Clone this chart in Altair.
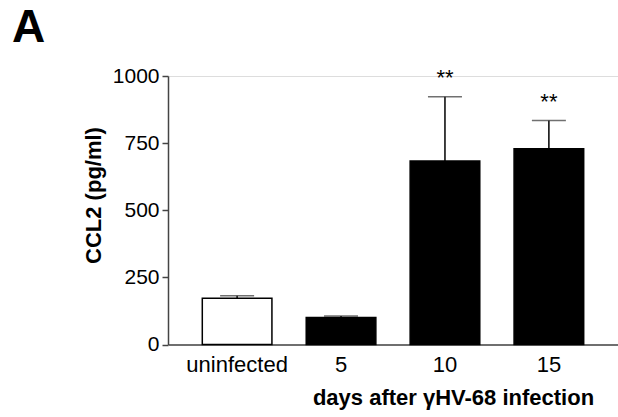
import altair as alt
import pandas as pd

groups = ["uninfected", "5", "10", "15"]
means = [172, 101, 683, 729]
err_tops = [182, 106, 923, 834]
stars = ["", "", "**", "**"]
fills = ["white", "black", "black", "black"]

df = pd.DataFrame({"group": groups, "mean": means, "err": err_tops,
                   "star": stars, "fill": fills})

FONT = "Liberation Sans"

x = alt.X("group:N", sort=groups,
          scale=alt.Scale(paddingInner=0.33, paddingOuter=0.33),
          axis=alt.Axis(title="days after γHV-68 infection", labelAngle=0,
                        ticks=False, labelPadding=10, labelFontSize=22,
                        labelFont=FONT, labelColor="black",
                        titleFont=FONT, titleFontSize=22, titleFontWeight="bold",
                        titleColor="black", titleX=285, titleY=60,
                        titleAlign="center", titleBaseline="alphabetic",
                        domainColor="#444", domainWidth=1.5))

y_scale = alt.Scale(domain=[0, 1000], nice=False)
y_axis = alt.Axis(title="CCL2 (pg/ml)", values=[0, 250, 500, 750, 1000],
                  format="d",
                  grid=False, tickSize=6, tickColor="#444", tickWidth=1.5,
                  labelPadding=3, labelFontSize=21, labelFont=FONT,
                  labelColor="black", domainColor="#444", domainWidth=1.5,
                  titleFont=FONT, titleFontSize=22, titleFontWeight="bold",
                  titleColor="black", titleX=-68, titleY=119,
                  titleAlign="center", titleBaseline="alphabetic", titleAngle=270)

base = alt.Chart(df)

err_line = base.mark_rule(color="black", strokeWidth=1.5).encode(
    x=x, y=alt.Y("mean:Q", scale=y_scale, axis=y_axis), y2="err:Q")

err_cap = base.mark_tick(color="#333", thickness=1.5, size=34).encode(
    x=x, y=alt.Y("err:Q", scale=y_scale))

bars = base.mark_bar(stroke="black", strokeWidth=1.5).encode(
    x=x, y=alt.Y("mean:Q", scale=y_scale, axis=y_axis),
    fill=alt.Fill("fill:N", scale=None))

star_text = base.mark_text(fontSize=22, font=FONT, color="black",
                           baseline="alphabetic", dy=-12).encode(
    x=x, y=alt.Y("err:Q", scale=y_scale), text="star:N")

chart = alt.layer(err_line, err_cap, bars, star_text).properties(
    width=450, height=268.5,
    autosize=alt.AutoSizeParams(type="none"),
    padding={"left": 168, "top": 76, "right": 0, "bottom": 72.5},
    title=alt.Title("A", anchor="start", frame="group", dx=-156, dy=-13,
                    fontSize=46, font=FONT, fontWeight="bold", color="black",
                    baseline="top", offset=0),
).configure_view(stroke=None).configure(background="white")

chart.save("out.html", embed_options={"renderer": "svg", "actions": False})
